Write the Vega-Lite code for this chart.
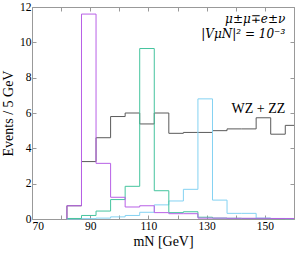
{
  "$schema": "https://vega.github.io/schema/vega-lite/v6.json",
  "autosize": {"type": "none"},
  "padding": {"left": 32, "top": 7, "right": 13, "bottom": 36},
  "width": 262,
  "height": 212,
  "background": "white",
  "config": {
    "view": {"stroke": "#999999", "strokeWidth": 1},
    "font": "Liberation Serif",
    "axis": {
      "domain": false,
      "grid": false,
      "tickColor": "#999999",
      "tickSize": -4,
      "labelColor": "black",
      "labelFont": "Liberation Serif",
      "labelFontSize": 11.5,
      "labelFlush": false,
      "labelOverlap": false,
      "labelBound": false,
      "titleFont": "Liberation Serif",
      "titleFontSize": 14,
      "titleFontWeight": "normal",
      "titleColor": "black"
    }
  },
  "datasets": {
    "hist": [
      {"s": "1", "i": 0, "x": 82, "y": 0},
      {"s": "1", "i": 1, "x": 82, "y": 0.75},
      {"s": "1", "i": 2, "x": 87, "y": 3.25},
      {"s": "1", "i": 3, "x": 92, "y": 4.6},
      {"s": "1", "i": 4, "x": 97, "y": 5.8},
      {"s": "1", "i": 5, "x": 102, "y": 6.0},
      {"s": "1", "i": 6, "x": 107, "y": 5.38},
      {"s": "1", "i": 7, "x": 112, "y": 6.0},
      {"s": "1", "i": 8, "x": 117, "y": 4.85},
      {"s": "1", "i": 9, "x": 122, "y": 4.9},
      {"s": "1", "i": 10, "x": 127, "y": 4.9},
      {"s": "1", "i": 11, "x": 132, "y": 5.0},
      {"s": "1", "i": 12, "x": 137, "y": 5.1},
      {"s": "1", "i": 13, "x": 142, "y": 5.1},
      {"s": "1", "i": 14, "x": 147, "y": 5.73},
      {"s": "1", "i": 15, "x": 152, "y": 4.8},
      {"s": "1", "i": 16, "x": 157, "y": 5.3},
      {"s": "1", "i": 17, "x": 160, "y": 5.3},

      {"s": "2", "i": 0, "x": 82, "y": 0},
      {"s": "2", "i": 1, "x": 87, "y": 0.02},
      {"s": "2", "i": 2, "x": 92, "y": 0.05},
      {"s": "2", "i": 3, "x": 97, "y": 0.12},
      {"s": "2", "i": 4, "x": 102, "y": 0.2},
      {"s": "2", "i": 5, "x": 107, "y": 0.38},
      {"s": "2", "i": 6, "x": 112, "y": 0.8},
      {"s": "2", "i": 7, "x": 117, "y": 1.02},
      {"s": "2", "i": 8, "x": 122, "y": 1.68},
      {"s": "2", "i": 9, "x": 127, "y": 6.8},
      {"s": "2", "i": 10, "x": 132, "y": 1.07},
      {"s": "2", "i": 11, "x": 137, "y": 0.32},
      {"s": "2", "i": 12, "x": 142, "y": 0.32},
      {"s": "2", "i": 13, "x": 147, "y": 0.05},
      {"s": "2", "i": 14, "x": 152, "y": 0.03},
      {"s": "2", "i": 15, "x": 157, "y": 0.02},
      {"s": "2", "i": 16, "x": 160, "y": 0.02},

      {"s": "3", "i": 0, "x": 82, "y": 0},
      {"s": "3", "i": 1, "x": 82, "y": 0.03},
      {"s": "3", "i": 2, "x": 87, "y": 0.2},
      {"s": "3", "i": 3, "x": 92, "y": 0.45},
      {"s": "3", "i": 4, "x": 97, "y": 1.1},
      {"s": "3", "i": 5, "x": 102, "y": 1.85},
      {"s": "3", "i": 6, "x": 107, "y": 9.65},
      {"s": "3", "i": 7, "x": 112, "y": 1.6},
      {"s": "3", "i": 8, "x": 117, "y": 0.36},
      {"s": "3", "i": 9, "x": 122, "y": 0.41},
      {"s": "3", "i": 10, "x": 127, "y": 0.1},
      {"s": "3", "i": 11, "x": 132, "y": 0.05},
      {"s": "3", "i": 12, "x": 137, "y": 0.04},
      {"s": "3", "i": 13, "x": 142, "y": 0.03},
      {"s": "3", "i": 14, "x": 147, "y": 0.03},
      {"s": "3", "i": 15, "x": 152, "y": 0.02},
      {"s": "3", "i": 16, "x": 157, "y": 0.02},
      {"s": "3", "i": 17, "x": 160, "y": 0.02},

      {"s": "4", "i": 0, "x": 82, "y": 0},
      {"s": "4", "i": 1, "x": 82, "y": 0.75},
      {"s": "4", "i": 2, "x": 87, "y": 11.6},
      {"s": "4", "i": 3, "x": 92, "y": 3.15},
      {"s": "4", "i": 4, "x": 97, "y": 1.23},
      {"s": "4", "i": 5, "x": 102, "y": 0.68},
      {"s": "4", "i": 6, "x": 107, "y": 0.75},
      {"s": "4", "i": 7, "x": 112, "y": 0.36},
      {"s": "4", "i": 8, "x": 117, "y": 0.3},
      {"s": "4", "i": 9, "x": 122, "y": 0.3},
      {"s": "4", "i": 10, "x": 127, "y": 0.05},
      {"s": "4", "i": 11, "x": 132, "y": 0.05},
      {"s": "4", "i": 12, "x": 137, "y": 0.04},
      {"s": "4", "i": 13, "x": 142, "y": 0.04},
      {"s": "4", "i": 14, "x": 147, "y": 0.04},
      {"s": "4", "i": 15, "x": 152, "y": 0.03},
      {"s": "4", "i": 16, "x": 157, "y": 0.03},
      {"s": "4", "i": 17, "x": 160, "y": 0.03}
    ],
    "math": [
      {"x": 157, "y": 11.3, "t": "μ±μ∓e±ν"},
      {"x": 157, "y": 10.45, "t": "|VμN|² = 10⁻³"}
    ],
    "plain": [
      {"x": 157, "y": 6.25, "t": "WZ + ZZ"}
    ]
  },
  "layer": [
    {
      "data": {"name": "hist"},
      "mark": {"type": "line", "interpolate": "step-after", "strokeWidth": 1},
      "encoding": {
        "x": {
          "field": "x", "type": "quantitative",
          "scale": {"domain": [70, 160], "nice": false, "zero": false},
          "axis": {
            "orient": "bottom",
            "values": [70, 80, 90, 100, 110, 120, 130, 140, 150, 160],
            "labelExpr": "datum.value % 20 == 10 ? datum.label : ''",
            "labelFlush": true,
            "labelPadding": 5,
            "title": "mN [GeV]",
            "titlePadding": 3
          }
        },
        "y": {
          "field": "y", "type": "quantitative",
          "scale": {"domain": [0, 12], "nice": false},
          "axis": {
            "orient": "left",
            "values": [0, 2, 4, 6, 8, 10, 12],
            "labelPadding": 5,
            "title": "Events / 5 GeV",
            "titlePadding": 4
          }
        },
        "color": {
          "field": "s", "type": "nominal",
          "scale": {"domain": ["1", "2", "3", "4"], "range": ["#5a5a5a", "#84d2f2", "#45c49e", "#b860e6"]},
          "legend": null
        },
        "order": {"field": "i", "type": "quantitative"}
      }
    },
    {
      "data": {"name": "math"},
      "mark": {"type": "text", "align": "right", "baseline": "middle", "fontSize": 12, "fontStyle": "italic", "font": "DejaVu Serif", "color": "black"},
      "encoding": {
        "x": {"field": "x", "type": "quantitative", "axis": null},
        "y": {"field": "y", "type": "quantitative", "axis": null},
        "text": {"field": "t", "type": "nominal"}
      }
    },
    {
      "data": {"name": "plain"},
      "mark": {"type": "text", "align": "right", "baseline": "middle", "fontSize": 14, "font": "Liberation Serif", "color": "black"},
      "encoding": {
        "x": {"field": "x", "type": "quantitative", "axis": null},
        "y": {"field": "y", "type": "quantitative", "axis": null},
        "text": {"field": "t", "type": "nominal"}
      }
    },
    {
      "data": {"name": "hist"},
      "mark": {"type": "point", "opacity": 0},
      "encoding": {
        "x": {
          "field": "x", "type": "quantitative",
          "axis": {"orient": "top", "values": [70, 80, 90, 100, 110, 120, 130, 140, 150, 160], "labels": false, "title": null}
        },
        "y": {
          "field": "y", "type": "quantitative",
          "axis": {"orient": "right", "values": [0, 2, 4, 6, 8, 10, 12], "labels": false, "title": null}
        }
      }
    }
  ],
  "resolve": {"axis": {"x": "independent", "y": "independent"}}
}
